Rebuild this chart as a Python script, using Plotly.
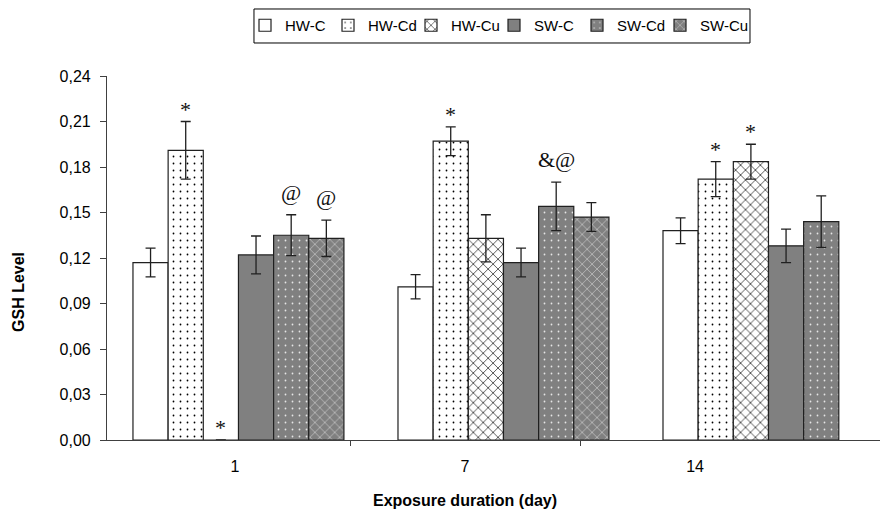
import plotly.graph_objects as go

# ---- data ----
days = ["1", "7", "14"]
series = ["HW-C", "HW-Cd", "HW-Cu", "SW-C", "SW-Cd", "SW-Cu"]
hw_c = [0.117, 0.101, 0.138]
hw_cd = [0.191, 0.197, 0.172]
hw_cu = [0.0, 0.133, 0.1835]
sw_c = [0.122, 0.117, 0.128]
sw_cd = [0.135, 0.154, 0.144]
sw_cu = [0.133, 0.147, None]

hw_c_err = [0.0095, 0.008, 0.0085]
hw_cd_err = [0.019, 0.0095, 0.0115]
hw_cu_err = [None, 0.0155, 0.0115]
sw_c_err = [0.0125, 0.0095, 0.011]
sw_cd_err = [0.0135, 0.016, 0.017]
sw_cu_err = [0.012, 0.0095, None]

# significance marks: (day index, series index, text)
marks = [
    (0, 1, "*"), (0, 2, "*"), (0, 4, "@"), (0, 5, "@"),
    (1, 1, "*"), (1, 4, "&@"),
    (2, 1, "*"), (2, 2, "*"),
]

values = [hw_c, hw_cd, hw_cu, sw_c, sw_cd, sw_cu]
errors = [hw_c_err, hw_cd_err, hw_cu_err, sw_c_err, sw_cd_err, sw_cu_err]

GRAY = "#808080"
styles = [
    dict(color="white", pattern=None),
    dict(color="white", pattern=dict(shape=".", fgcolor="black", bgcolor="white", size=7, solidity=0.05, fillmode="replace")),
    dict(color="white", pattern=dict(shape="x", fgcolor="#202020", bgcolor="white", size=7, solidity=0.2, fillmode="replace")),
    dict(color=GRAY, pattern=None),
    dict(color=GRAY, pattern=dict(shape=".", fgcolor="#e6e6e6", bgcolor=GRAY, size=7, solidity=0.05, fillmode="replace")),
    dict(color=GRAY, pattern=dict(shape="x", fgcolor="#c4c4c4", bgcolor=GRAY, size=7, solidity=0.2, fillmode="replace")),
]

BARGAP = 0.204
idx = list(range(len(days)))

fig = go.Figure()
for name, vals, errs, st in zip(series, values, errors, styles):
    marker = dict(color=st["color"], line=dict(color="#202020", width=1.2))
    if st["pattern"]:
        marker["pattern"] = st["pattern"]
    fig.add_trace(go.Bar(
        x=idx, y=vals, name=name, marker=marker,
        error_y=dict(type="data", array=errs, visible=True, color="#202020",
                     thickness=1.3, width=5),
    ))

# invisible trace carrying the label axis; its blank legend slot keeps the last label unclipped
fig.add_trace(go.Scatter(x=idx, y=[None] * len(idx), xaxis="x2", name=" ", showlegend=True,
                         hoverinfo="skip", mode="markers",
                         marker=dict(color="rgba(0,0,0,0)", size=1)))

n = len(series)
slot = (1 - BARGAP) / n
for g, s, txt in marks:
    v = values[s][g] or 0
    e = errors[s][g] or 0
    xc = g - (1 - BARGAP) / 2 + (s + 0.5) * slot
    is_star = txt == "*"
    fig.add_annotation(x=xc, y=v + e, xref="x", yref="y", text=txt, showarrow=False,
                       yanchor="bottom", yshift=(-2 if is_star else 8),
                       font=dict(family="Liberation Serif", size=22, color="#101010"))

fig.add_annotation(x=1, y=-0.165, xref="x2", yref="paper", yanchor="middle",
                   text="<b>Exposure duration (day)</b>", showarrow=False,
                   font=dict(family="Liberation Sans", size=16, color="black"))
fig.add_annotation(x=-0.1127, y=0.4066, xref="paper", yref="paper", textangle=-90,
                   xanchor="center", yanchor="middle",
                   text="<b>GSH Level</b>", showarrow=False,
                   font=dict(family="Liberation Sans", size=16, color="black"))

# legend frame
fig.add_shape(type="rect", xref="paper", yref="paper", x0=0.1882, x1=0.8233,
              y0=1.0907, y1=1.1841, line=dict(color="black", width=1), layer="below")

fig.update_layout(
    width=880, height=503,
    margin=dict(l=99, r=0, t=68, b=71),
    paper_bgcolor="white", plot_bgcolor="white",
    barmode="group", bargap=BARGAP, bargroupgap=0,
    separators=", ",
    font=dict(family="Liberation Sans", size=16, color="black"),
    showlegend=True,
    legend=dict(orientation="h", x=0.1767, xanchor="left", y=1.184, yanchor="top",
                borderwidth=0, bgcolor="rgba(0,0,0,0)",
                font=dict(size=15), itemwidth=30, entrywidth=38, traceorder="normal"),
    xaxis=dict(range=[-0.496, 2.451], showticklabels=False, ticks="", showgrid=False,
               zeroline=False, showline=True, linecolor="#404040", linewidth=1.2),
    xaxis2=dict(overlaying="x", side="bottom", range=[-0.5565, 2.839],
                tickmode="array", tickvals=idx, ticktext=days, ticks="",
                showgrid=False, zeroline=False, showline=False,
                tickfont=dict(size=16), ticklabelstandoff=15,
                minor=dict(tickmode="array", tickvals=[0.5, 1.5], ticks="outside",
                           ticklen=5, tickcolor="#404040")),
    yaxis=dict(range=[0, 0.24], dtick=0.03, tickformat=".2f", ticks="outside", ticklen=6,
               tickcolor="#404040", showline=True, linecolor="#404040", linewidth=1.2,
               showgrid=False, zeroline=False, tickfont=dict(size=16), ticklabelstandoff=6),
)

fig.write_html("out.html")
